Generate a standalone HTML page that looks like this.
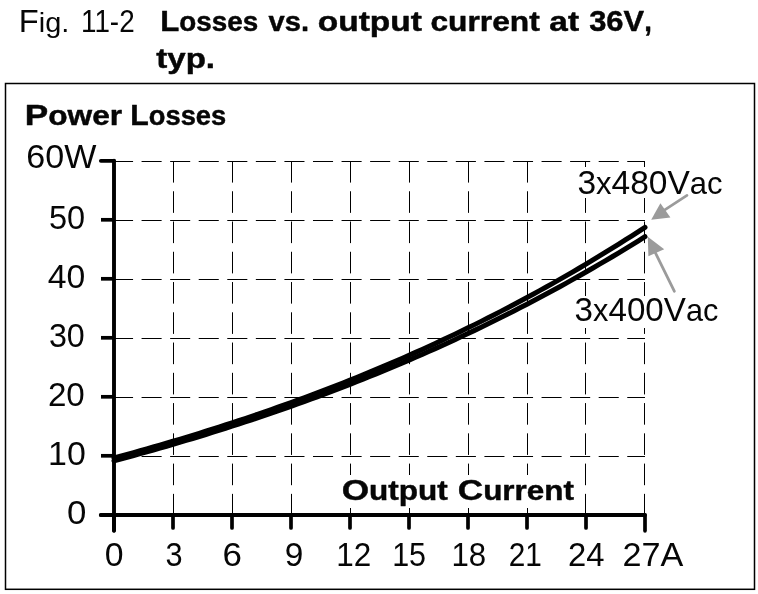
<!DOCTYPE html>
<html><head><meta charset="utf-8"><style>
html,body{margin:0;padding:0;background:#fff;width:758px;height:594px;overflow:hidden}
svg{display:block;will-change:transform}
text{font-family:"Liberation Sans",sans-serif;fill:#060606}
</style></head><body>
<svg width="758" height="594" viewBox="0 0 758 594">
<rect x="0" y="0" width="758" height="594" fill="#fff"/>
<text x="18.82" y="31.6" font-size="30.8" textLength="50.49" lengthAdjust="spacingAndGlyphs"><tspan font-size="30.8">F</tspan><tspan font-size="27.3">ig.</tspan></text>
<text x="80.99" y="31.6" font-size="30.8" textLength="53.64" lengthAdjust="spacingAndGlyphs"><tspan font-size="30.8">11-2</tspan></text>
<text x="160.23" y="31.4" font-size="30.2" font-weight="bold" stroke="#060606" stroke-width="0.45" stroke-linejoin="round" textLength="97.89" lengthAdjust="spacingAndGlyphs"><tspan font-size="30.2">L</tspan><tspan font-size="26.9">osses</tspan></text>
<text x="268.5" y="31.4" font-size="30.2" font-weight="bold" stroke="#060606" stroke-width="0.45" stroke-linejoin="round" textLength="40.51" lengthAdjust="spacingAndGlyphs"><tspan font-size="26.9">vs.</tspan></text>
<text x="317.86" y="31.4" font-size="30.2" font-weight="bold" stroke="#060606" stroke-width="0.45" stroke-linejoin="round" textLength="104.02" lengthAdjust="spacingAndGlyphs"><tspan font-size="26.9">output</tspan></text>
<text x="430.42" y="31.4" font-size="30.2" font-weight="bold" stroke="#060606" stroke-width="0.45" stroke-linejoin="round" textLength="109.35" lengthAdjust="spacingAndGlyphs"><tspan font-size="26.9">current</tspan></text>
<text x="549.36" y="31.4" font-size="30.2" font-weight="bold" stroke="#060606" stroke-width="0.45" stroke-linejoin="round" textLength="29.64" lengthAdjust="spacingAndGlyphs"><tspan font-size="26.9">at</tspan></text>
<text x="589.18" y="31.4" font-size="30.2" font-weight="bold" stroke="#060606" stroke-width="0.45" stroke-linejoin="round" textLength="62.66" lengthAdjust="spacingAndGlyphs"><tspan font-size="30.2">36V</tspan><tspan font-size="26.9">,</tspan></text>
<text x="156.3" y="67.8" font-size="30.2" font-weight="bold" stroke="#060606" stroke-width="0.45" stroke-linejoin="round" textLength="58.73" lengthAdjust="spacingAndGlyphs"><tspan font-size="26.9">typ.</tspan></text>
<rect x="5.5" y="83.5" width="749" height="505.8" fill="none" stroke="#000" stroke-width="1.5"/>
<text x="24.77" y="124.8" font-size="30.2" font-weight="bold" stroke="#060606" stroke-width="0.45" stroke-linejoin="round" textLength="97.34" lengthAdjust="spacingAndGlyphs"><tspan font-size="30.2">P</tspan><tspan font-size="27.2">ower</tspan></text><text x="130.29" y="124.8" font-size="30.2" font-weight="bold" stroke="#060606" stroke-width="0.45" stroke-linejoin="round" textLength="95.86" lengthAdjust="spacingAndGlyphs"><tspan font-size="30.2">L</tspan><tspan font-size="27.2">osses</tspan></text>
<g stroke="#000" stroke-width="1" fill="none">
<g stroke-dasharray="21.6 8.66"><line x1="173.5" y1="161" x2="173.5" y2="515"/>
<line x1="232.5" y1="161" x2="232.5" y2="515"/>
<line x1="291.5" y1="161" x2="291.5" y2="515"/>
<line x1="350.5" y1="161" x2="350.5" y2="515"/>
<line x1="409.5" y1="161" x2="409.5" y2="515"/>
<line x1="468.5" y1="161" x2="468.5" y2="515"/>
<line x1="527.5" y1="161" x2="527.5" y2="515"/>
<line x1="585.5" y1="161" x2="585.5" y2="515"/>
<line x1="644.5" y1="161" x2="644.5" y2="515"/></g>
<g stroke-dasharray="20.07 8.5" stroke-dashoffset="1"><line x1="114" y1="161.5" x2="645" y2="161.5"/>
<line x1="114" y1="220.5" x2="645" y2="220.5"/>
<line x1="114" y1="279.5" x2="645" y2="279.5"/>
<line x1="114" y1="338.5" x2="645" y2="338.5"/>
<line x1="114" y1="397.5" x2="645" y2="397.5"/>
<line x1="114" y1="456.5" x2="645" y2="456.5"/></g>
</g>
<rect x="574" y="167" width="152" height="31" fill="#fff"/>
<rect x="572" y="296" width="150" height="32" fill="#fff"/>
<rect x="338" y="475" width="240" height="33" fill="#fff"/>
<g stroke="#000" stroke-width="3.7" stroke-linecap="round" fill="none">
<line x1="114" y1="160.7" x2="114" y2="530.5" stroke-width="3.9"/>
<line x1="100.8" y1="515" x2="645" y2="515" stroke-width="3.8"/>
<line x1="114" y1="515" x2="114" y2="530.8" stroke-linecap="round"/>
<line x1="173" y1="515" x2="173" y2="528" stroke-linecap="round"/>
<line x1="232" y1="515" x2="232" y2="528" stroke-linecap="round"/>
<line x1="291" y1="515" x2="291" y2="528" stroke-linecap="round"/>
<line x1="350" y1="515" x2="350" y2="528" stroke-linecap="round"/>
<line x1="409" y1="515" x2="409" y2="528" stroke-linecap="round"/>
<line x1="468" y1="515" x2="468" y2="528" stroke-linecap="round"/>
<line x1="527" y1="515" x2="527" y2="528" stroke-linecap="round"/>
<line x1="586" y1="515" x2="586" y2="528" stroke-linecap="round"/>
<line x1="645" y1="515" x2="645" y2="530.8" stroke-linecap="round"/>
<line x1="100.8" y1="160.8" x2="114" y2="160.8" stroke-linecap="round"/>
<line x1="101" y1="219.8" x2="114" y2="219.8" stroke-linecap="butt"/>
<line x1="101" y1="278.8" x2="114" y2="278.8" stroke-linecap="butt"/>
<line x1="101" y1="337.8" x2="114" y2="337.8" stroke-linecap="butt"/>
<line x1="101" y1="396.8" x2="114" y2="396.8" stroke-linecap="butt"/>
<line x1="101" y1="455.8" x2="114" y2="455.8" stroke-linecap="butt"/>
<line x1="100.8" y1="515" x2="114" y2="515" stroke-linecap="round"/>
</g>
<g stroke="#000" stroke-width="5" stroke-linecap="round" stroke-linejoin="round" fill="none">
<path d="M114.00,458.00 L120.56,456.21 L127.11,454.41 L133.67,452.58 L140.22,450.74 L146.78,448.88 L153.33,447.00 L159.89,445.10 L166.44,443.18 L173.00,441.24 L179.56,439.29 L186.11,437.31 L192.67,435.30 L199.22,433.28 L205.78,431.24 L212.33,429.17 L218.89,427.08 L225.44,424.97 L232.00,422.84 L238.56,420.68 L245.11,418.50 L251.67,416.30 L258.22,414.07 L264.78,411.81 L271.33,409.53 L277.89,407.23 L284.44,404.90 L291.00,402.54 L297.56,400.16 L304.11,397.75 L310.67,395.31 L317.22,392.85 L323.78,390.36 L330.33,387.84 L336.89,385.29 L343.44,382.71 L350.00,380.11 L356.56,377.47 L363.11,374.81 L369.67,372.11 L376.22,369.39 L382.78,366.63 L389.33,363.84 L395.89,361.03 L402.44,358.17 L409.00,355.29 L415.56,352.38 L422.11,349.43 L428.67,346.45 L435.22,343.43 L441.78,340.39 L448.33,337.30 L454.89,334.19 L461.44,331.03 L468.00,327.85 L474.56,324.63 L481.11,321.37 L487.67,318.07 L494.22,314.74 L500.78,311.38 L507.33,307.97 L513.89,304.53 L520.44,301.05 L527.00,297.53 L533.56,293.97 L540.11,290.38 L546.67,286.74 L553.22,283.07 L559.78,279.36 L566.33,275.60 L572.89,271.81 L579.44,267.97 L586.00,264.10 L592.56,260.18 L599.11,256.22 L605.67,252.22 L612.22,248.17 L618.78,244.08 L625.33,239.95 L631.89,235.78 L638.44,231.56 L645.00,227.30"/>
<path d="M114.00,460.82 L120.56,459.06 L127.11,457.28 L133.67,455.49 L140.22,453.68 L146.78,451.85 L153.33,450.00 L159.89,448.13 L166.44,446.24 L173.00,444.33 L179.56,442.41 L186.11,440.46 L192.67,438.49 L199.22,436.50 L205.78,434.49 L212.33,432.46 L218.89,430.41 L225.44,428.33 L232.00,426.24 L238.56,424.12 L245.11,421.97 L251.67,419.81 L258.22,417.62 L264.78,415.41 L271.33,413.17 L277.89,410.91 L284.44,408.62 L291.00,406.31 L297.56,403.98 L304.11,401.62 L310.67,399.23 L317.22,396.82 L323.78,394.38 L330.33,391.91 L336.89,389.42 L343.44,386.90 L350.00,384.36 L356.56,381.78 L363.11,379.18 L369.67,376.55 L376.22,373.89 L382.78,371.20 L389.33,368.49 L395.89,365.74 L402.44,362.96 L409.00,360.16 L415.56,357.32 L422.11,354.45 L428.67,351.56 L435.22,348.63 L441.78,345.67 L448.33,342.67 L454.89,339.65 L461.44,336.59 L468.00,333.51 L474.56,330.38 L481.11,327.23 L487.67,324.04 L494.22,320.82 L500.78,317.56 L507.33,314.27 L513.89,310.95 L520.44,307.59 L527.00,304.19 L533.56,300.76 L540.11,297.30 L546.67,293.79 L553.22,290.25 L559.78,286.68 L566.33,283.07 L572.89,279.42 L579.44,275.73 L586.00,272.01 L592.56,268.24 L599.11,264.44 L605.67,260.60 L612.22,256.73 L618.78,252.81 L625.33,248.85 L631.89,244.86 L638.44,240.82 L645.00,236.74"/>
</g>
<g font-size="33">
<text x="26.36" y="167.8" font-size="33.5" textLength="70.12" lengthAdjust="spacingAndGlyphs">60W</text>
<text x="48.94" y="229.3" font-size="33.2" textLength="36.16" lengthAdjust="spacingAndGlyphs">50</text>
<text x="47.68" y="288.3" font-size="33.2" textLength="37.55" lengthAdjust="spacingAndGlyphs">40</text>
<text x="48.93" y="347.3" font-size="33.2" textLength="35.87" lengthAdjust="spacingAndGlyphs">30</text>
<text x="47.9" y="406.3" font-size="33.2" textLength="36.92" lengthAdjust="spacingAndGlyphs">20</text>
<text x="48.04" y="465.3" font-size="33.2" textLength="37.71" lengthAdjust="spacingAndGlyphs">10</text>
<text x="66.95" y="524.3" font-size="33.2" textLength="19.39" lengthAdjust="spacingAndGlyphs">0</text>
<text x="104.88" y="565.5" font-size="33.2" textLength="18.82" lengthAdjust="spacingAndGlyphs">0</text>
<text x="165.38" y="565.5" font-size="33.2" textLength="17.08" lengthAdjust="spacingAndGlyphs">3</text>
<text x="222.59" y="565.5" font-size="33.2" textLength="19.45" lengthAdjust="spacingAndGlyphs">6</text>
<text x="284.89" y="565.5" font-size="33.2" textLength="18.59" lengthAdjust="spacingAndGlyphs">9</text>
<text x="336.16" y="565.5" font-size="33.2" textLength="34.96" lengthAdjust="spacingAndGlyphs">12</text>
<text x="392.15" y="565.5" font-size="33.2" textLength="33.9" lengthAdjust="spacingAndGlyphs">15</text>
<text x="451.38" y="565.5" font-size="33.2" textLength="34.68" lengthAdjust="spacingAndGlyphs">18</text>
<text x="508.81" y="565.5" font-size="33.2" textLength="33.12" lengthAdjust="spacingAndGlyphs">21</text>
<text x="567.92" y="565.5" font-size="33.2" textLength="36.49" lengthAdjust="spacingAndGlyphs">24</text>
<text x="622.56" y="565.6" font-size="33.5" textLength="60.86" lengthAdjust="spacingAndGlyphs">27A</text>
<text x="577.41" y="193.8" font-size="33.7" textLength="145.17" lengthAdjust="spacingAndGlyphs"><tspan font-size="33.7">3</tspan><tspan font-size="31.2">x</tspan><tspan font-size="33.7">480V</tspan><tspan font-size="31.2">ac</tspan></text>
<text x="574.62" y="321.3" font-size="33.7" textLength="143.75" lengthAdjust="spacingAndGlyphs"><tspan font-size="33.7">3</tspan><tspan font-size="31.2">x</tspan><tspan font-size="33.7">400V</tspan><tspan font-size="31.2">ac</tspan></text>
</g>
<text x="341.73" y="499.7" font-size="30.2" font-weight="bold" stroke="#060606" stroke-width="0.45" stroke-linejoin="round" textLength="106.01" lengthAdjust="spacingAndGlyphs"><tspan font-size="30.2">O</tspan><tspan font-size="27.0">utput</tspan></text><text x="457.84" y="499.7" font-size="30.2" font-weight="bold" stroke="#060606" stroke-width="0.45" stroke-linejoin="round" textLength="116.02" lengthAdjust="spacingAndGlyphs"><tspan font-size="30.2">C</tspan><tspan font-size="27.0">urrent</tspan></text>
<g fill="#9b9b9b" stroke="#9b9b9b" stroke-linecap="round">
<line x1="687" y1="195.4" x2="664" y2="210.4" stroke-width="2.7"/>
<polygon points="651.2,219.7 660.4,203.2 670.4,217.4" stroke="none"/>
<line x1="674.3" y1="291.2" x2="655" y2="252" stroke-width="2.8"/>
<polygon points="647.8,236.8 648.4,256.2 664.2,249.2" stroke="none"/>
</g>
</svg>
</body></html>
